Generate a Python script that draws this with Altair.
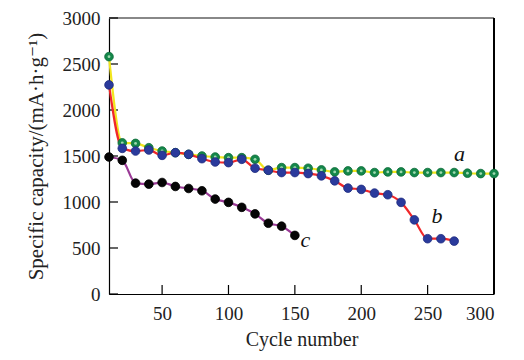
import altair as alt
import pandas as pd

cycles_a = [10, 20, 30, 40, 50, 60, 70, 80, 90, 100, 110, 120, 130, 140, 150, 160, 170, 180, 190, 200,
            210, 220, 230, 240, 250, 260, 270, 280, 290, 300]
cap_a = [2580, 1643, 1637, 1590, 1554, 1536, 1518, 1500, 1489, 1482, 1482, 1464, 1345, 1374, 1374, 1367,
         1349, 1327, 1338, 1338, 1320, 1327, 1327, 1320, 1320, 1320, 1320, 1313, 1309, 1309]

cycles_b = [10, 20, 30, 40, 50, 60, 70, 80, 90, 100, 110, 120, 130, 140, 150, 160, 170, 180, 190, 200,
            210, 220, 230, 240, 250, 260, 270]
cap_b = [2273, 1583, 1554, 1565, 1507, 1536, 1518, 1471, 1435, 1428, 1464, 1367, 1345, 1320, 1320, 1309,
         1284, 1230, 1151, 1137, 1097, 1079, 996, 806, 601, 601, 575]

cycles_c = [10, 20, 30, 40, 50, 60, 70, 80, 90, 100, 110, 120, 130, 140, 150]
cap_c = [1489, 1453, 1205, 1194, 1212, 1169, 1147, 1122, 1032, 996, 942, 871, 769, 737, 637]

label_text = ["a", "b", "c"]
label_x = [274, 257, 158]
label_y = [1521, 852, 583]

x_ticks = [50, 100, 150, 200, 250, 300]
y_ticks = [0, 500, 1000, 1500, 2000, 2500, 3000]

W, H = 385, 276
FONT = "Liberation Serif, Times New Roman, DejaVu Serif, serif"

xs = alt.Scale(domain=[10, 300], nice=False, zero=False)
ys = alt.Scale(domain=[0, 3000], nice=False)

df_a = pd.DataFrame({"x": cycles_a, "y": cap_a})
df_b = pd.DataFrame({"x": cycles_b, "y": cap_b})
df_c = pd.DataFrame({"x": cycles_c, "y": cap_c})
df_lab = pd.DataFrame({"x": label_x, "y": label_y, "t": label_text})
df_xt = pd.DataFrame({"x": x_ticks})
df_yt = pd.DataFrame({"y": y_ticks})

X = alt.X("x:Q", scale=xs, title="Cycle number",
          axis=alt.Axis(values=x_ticks, format="d", ticks=False, grid=False, labelPadding=10,
                        titlePadding=6, titleFontSize=20, domainColor="black", domainWidth=1.2))
Y = alt.Y("y:Q", scale=ys, title="Specific capacity/(mA·h·g⁻¹)",
          axis=alt.Axis(values=y_ticks, format="d", ticks=False, grid=False, labelPadding=9,
                        titlePadding=16, domainColor="black", domainWidth=1.2))


def series(df, line_color, pt_color, stroke):
    line = alt.Chart(df).mark_line(color=line_color, strokeWidth=2.2, interpolate="monotone").encode(x=X, y=Y)
    pts = alt.Chart(df).mark_point(filled=True, shape="circle", size=75, color=pt_color, opacity=1,
                                   stroke=stroke, strokeWidth=0.8).encode(x=X, y=Y)
    return line, pts


la, pa = series(df_a, "#f2e61c", "#14874a", "#0d6b38")
hl_a = alt.Chart(df_a).mark_point(filled=True, shape="circle", size=8, color="#9fd9b0", opacity=1).encode(x=X, y=Y)
lb, pb = series(df_b, "#f0282a", "#2a3a9c", "#1f2c80")
lc, pc = series(df_c, "#9a3a96", "#050505", "#000000")

labels = alt.Chart(df_lab).mark_text(font=FONT, fontStyle="italic", fontSize=22, color="#111").encode(
    x=alt.X("x:Q", scale=xs), y=alt.Y("y:Q", scale=ys), text="t:N")

yticks = alt.Chart(df_yt).mark_rule(color="black", strokeWidth=1.2).encode(
    y=alt.Y("y:Q", scale=ys), x=alt.value(0), x2=alt.value(9))
xticks = alt.Chart(df_xt).mark_rule(color="black", strokeWidth=1.2).encode(
    x=alt.X("x:Q", scale=xs), y=alt.value(H - 9), y2=alt.value(H))

top = alt.Chart(df_xt).mark_rule(color="#888888", strokeWidth=2).encode(
    x=alt.value(0), x2=alt.value(W), y=alt.value(0))
right = alt.Chart(df_xt).mark_rule(color="black", strokeWidth=1.2).encode(
    x=alt.value(W), y=alt.value(0), y2=alt.value(H))

chart = alt.layer(top, right, yticks, xticks, la, lb, lc, pa, hl_a, pb, pc, labels).properties(
    width=W, height=H,
    autosize=alt.AutoSizeParams(type="none"),
    padding={"left": 101, "top": 10, "right": 14, "bottom": 58},
).configure_view(stroke=None).configure_axis(
    labelFont=FONT, titleFont=FONT, labelFontSize=19, titleFontSize=21,
    labelColor="#222", titleColor="#222", titleFontWeight="normal",
)

chart.save("out.html", embed_options={"renderer": "svg", "actions": False})
